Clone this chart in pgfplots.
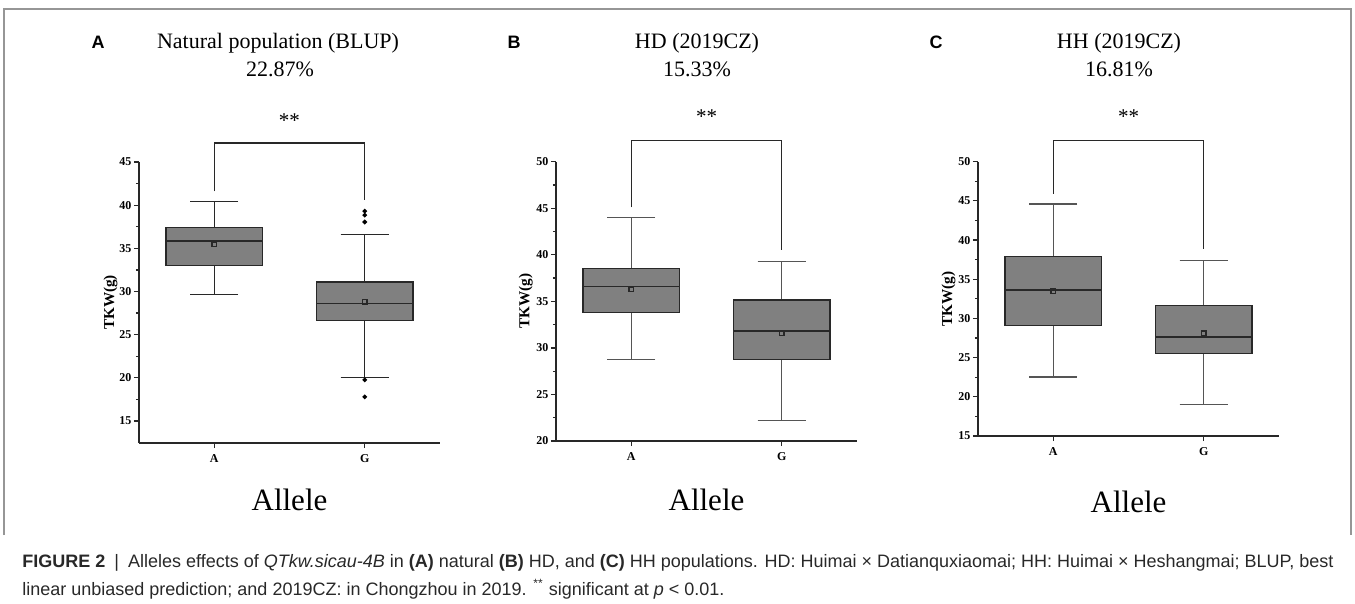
\documentclass[border=0pt]{standalone}
\usepackage{fontspec}
\setmainfont{Liberation Serif}
\newfontfamily\capfont{Liberation Sans}
\usepackage{pgfplots}
\pgfplotsset{compat=1.18}
\usepgfplotslibrary{statistics}

\definecolor{boxgray}{RGB}{128,128,128}
\definecolor{edge}{RGB}{40,40,40}
\definecolor{whisk}{RGB}{85,85,85}
\definecolor{framegray}{RGB}{150,150,150}
\definecolor{captext}{RGB}{40,40,40}

\tikzset{
  bracket/.style={draw=edge, line width=0.7pt},
  stars/.style={font=\fontsize{10.5}{11}\selectfont, yshift=-1.3pt},
}

\pgfplotsset{
  tkw/.style={
    scale only axis, width=150.5pt, anchor=south west,
    xmin=-0.5, xmax=1.5, xtick={0,1}, xticklabels={A,G},
    axis x line*=bottom, axis y line*=left,
    axis line style={-, line width=0.65pt, draw=edge},
    tick align=outside, major tick length=2.6pt, minor tick length=1.6pt,
    tick style={line width=0.6pt, draw=edge},
    minor y tick num=1,
    /pgf/number format/assume math mode=true,
    ticklabel style={font=\bfseries\fontsize{6}{7}\selectfont, inner sep=1pt},
    xticklabel style={yshift=-2pt},
    ylabel={TKW(g)},
    ylabel style={font=\bfseries\fontsize{7.6}{9}\selectfont, anchor=center},
    xlabel={Allele},
    xlabel style={font=\fontsize{15.5}{17}\selectfont, anchor=center},
    clip=false,
    boxplot/draw direction=y,
    boxplot/box extend=0.64, boxplot/whisker extend=0.32,
    boxplot/every median/.style={draw=edge, line width=0.8pt},
    boxplot/every average/.style={/tikz/mark=square, /tikz/mark size=1.1pt,
      /tikz/mark options={draw=black!60, fill=boxgray, line width=0.4pt}},
  },
  bx/.style={draw=edge, fill=boxgray, line width=0.65pt,
    mark=*, mark size=0.8pt, mark options={fill=black, draw=black}},
  bxlight/.style={bx, boxplot/every whisker/.style={draw=whisk, line width=0.55pt}},
}

\begin{document}
\begin{tikzpicture}
\begin{scope}[x=0.5pt, y=-0.5pt]
  \useasboundingbox (0,0) rectangle (1355,604);
  \draw[framegray, line width=0.6pt] (4,535) -- (4,9) -- (1351,9) -- (1351,535);
  % panel letters
  \node[font=\capfont\bfseries\fontsize{9}{10}\selectfont] at (98,42) {A};
  \node[font=\capfont\bfseries\fontsize{9}{10}\selectfont] at (514,42) {B};
  \node[font=\capfont\bfseries\fontsize{9}{10}\selectfont] at (936,42) {C};
  % titles
  \node[anchor=base, font=\fontsize{11}{13}\selectfont] at (278,49) {Natural population (BLUP)};
  \node[anchor=base, font=\fontsize{11}{13}\selectfont] at (280,77) {22.87\%};
  \node[anchor=base, font=\fontsize{11}{13}\selectfont] at (697,49) {HD (2019CZ)};
  \node[anchor=base, font=\fontsize{11}{13}\selectfont] at (697,77) {15.33\%};
  \node[anchor=base, font=\fontsize{11}{13}\selectfont] at (1119,49) {HH (2019CZ)};
  \node[anchor=base, font=\fontsize{11}{13}\selectfont] at (1119,77) {16.81\%};
  % caption
  \node[anchor=base west, inner sep=0pt, text=captext, font=\capfont\fontsize{9}{10}\selectfont] at (22,567)
    {{\bfseries FIGURE 2}\enspace|\enspace Alleles effects of \textit{QTkw.sicau-4B} in \textbf{(A)} natural \textbf{(B)} HD, and \textbf{(C)} HH populations. HD: Huimai × Datianquxiaomai; HH: Huimai × Heshangmai; BLUP, best};
  \node[anchor=base west, inner sep=0pt, text=captext, font=\capfont\fontsize{9}{10}\selectfont] at (22,595)
    {linear unbiased prediction; and 2019CZ: in Chongzhou in 2019. \textsuperscript{**} significant at \textit{p} < 0.01.};
\end{scope}

% ---- A: natural population
\begin{axis}[tkw, at={(69.5pt,-221.5pt)}, height=140.5pt,
  ymin=12.45, ymax=45, ytick={15,20,...,45},
  ylabel style={at={(axis description cs:-0.0947,0.5)}},
  xlabel style={at={(axis description cs:0.5,-0.2028)}}]
  \addplot[bx, boxplot prepared={draw position=0,
    lower whisker=29.64, lower quartile=33.04, median=35.86,
    upper quartile=37.44, upper whisker=40.4, average=35.43}] coordinates {};
  \addplot[bx, boxplot prepared={draw position=1,
    lower whisker=20.05, lower quartile=26.67, median=28.6,
    upper quartile=31.1, upper whisker=36.6, average=28.8}]
    table[row sep=\\, y index=0] {y\\ 39.3\\ 38.85\\ 38.05\\ 19.75\\ 17.8\\};
  \draw[bracket] (axis cs:0,41.6) -- (axis cs:0,47.2) -- (axis cs:1,47.2) -- (axis cs:1,40.6);
  \node[stars] at (axis cs:0.5,50.1) {**};
\end{axis}

% ---- B: HD (2019CZ)
\begin{axis}[tkw, at={(278pt,-220.5pt)}, height=139.65pt,
  ymin=20, ymax=50, ytick={20,25,...,50},
  ylabel style={at={(axis description cs:-0.1,0.5)}},
  xlabel style={at={(axis description cs:0.5,-0.2115)}}]
  \addplot[bxlight, boxplot prepared={draw position=0,
    lower whisker=28.72, lower quartile=33.77, median=36.6,
    upper quartile=38.56, upper whisker=44.0, average=36.3}] coordinates {};
  \addplot[bxlight, boxplot prepared={draw position=1,
    lower whisker=22.25, lower quartile=28.72, median=31.8,
    upper quartile=35.16, upper whisker=39.24, average=31.55}] coordinates {};
  \draw[bracket] (axis cs:0,45.1) -- (axis cs:0,52.25) -- (axis cs:1,52.25) -- (axis cs:1,40.5);
  \node[stars] at (axis cs:0.5,55.1) {**};
\end{axis}

% ---- C: HH (2019CZ)
\begin{axis}[tkw, at={(489pt,-218pt)}, height=137.15pt,
  ymin=15, ymax=50, ytick={15,20,...,50},
  ylabel style={at={(axis description cs:-0.098,0.5)}},
  xlabel style={at={(axis description cs:0.5,-0.2398)}}]
  \addplot[bxlight, boxplot prepared={draw position=0,
    lower whisker=22.53, lower quartile=29.07, median=33.62,
    upper quartile=37.92, upper whisker=44.6, average=33.5}] coordinates {};
  \addplot[bxlight, boxplot prepared={draw position=1,
    lower whisker=19.04, lower quartile=25.55, median=27.63,
    upper quartile=31.62, upper whisker=37.4, average=28.1}] coordinates {};
  \draw[bracket] (axis cs:0,45.9) -- (axis cs:0,52.7) -- (axis cs:1,52.7) -- (axis cs:1,38.8);
  \node[stars] at (axis cs:0.5,56.1) {**};
\end{axis}
\end{tikzpicture}
\end{document}
